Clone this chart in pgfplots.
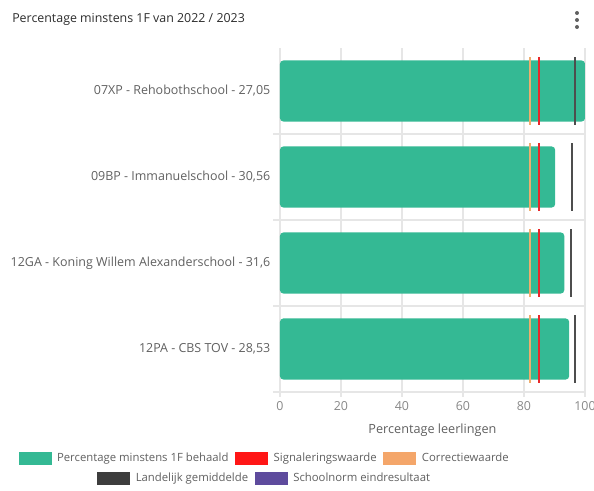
\documentclass[border=0pt]{standalone}
\usepackage{pgfplots}
\pgfplotsset{compat=1.18}
\usepackage{fontspec}
\setmainfont{Open Sans}
\definecolor{greenbar}{RGB}{52,185,148}
\definecolor{redline}{RGB}{232,40,43}
\definecolor{orangeline}{RGB}{239,174,110}
\definecolor{blackline}{RGB}{77,77,77}
\definecolor{legred}{RGB}{255,22,22}
\definecolor{legorange}{RGB}{244,166,106}
\definecolor{legblack}{RGB}{61,61,61}
\definecolor{legpurple}{RGB}{94,75,157}
\definecolor{gridc}{RGB}{230,230,230}
\definecolor{txt}{RGB}{96,96,96}
\definecolor{ticktxt}{RGB}{136,136,136}
\definecolor{titletxt}{RGB}{45,45,45}
\pgfplotsset{
  legbox/.style={legend image code/.code={\fill[#1] (0pt,-4.5pt) rectangle (24pt,4.5pt);}},
  leg/.style={legend style={draw=none, fill=none, font=\fontsize{8.5}{10.5}\selectfont, text=txt,
    /tikz/every odd column/.append style={column sep=2.5pt},
    /tikz/every even column/.append style={column sep=3pt}}, legend columns=-1},
  vline/.style={only marks, mark=*, mark size=0pt, mark options={draw=none, fill=none}, forget plot,
    error bars/.cd, y dir=both, y fixed=0.4, error mark=none,
    error bar style={line width=1.5pt, draw=#1}},
}
\begin{document}
\begin{tikzpicture}
\path[use as bounding box] (-210pt,-74.25pt) rectangle (235.5pt,294pt);
\node[anchor=west, inner sep=0pt, text=titletxt, font=\fontsize{9.3}{11}\selectfont] at (-201pt,279.5pt) {Percentage minstens 1F van 2022 / 2023};
\fill[txt] (222.75pt,284.25pt) circle (1.5pt) (222.75pt,279pt) circle (1.5pt) (222.75pt,273.75pt) circle (1.5pt);
\begin{axis}[
  at={(0,0)}, anchor=south west, scale only axis,
  width=228.75pt, height=258pt,
  xmin=0, xmax=100, ymin=-0.5, ymax=3.5, y dir=reverse,
  axis x line*=bottom, axis y line*=left,
  axis line style={gridc, line width=0.8pt},
  xtick={0,20,40,60,80,100},
  xmajorgrids, grid style={gridc, line width=0.8pt},
  tick align=outside,
  x tick style={gridc, line width=0.8pt}, major tick length=3.75pt,
  ytick={0,1,2,3},
  yticklabels={07XP - Rehobothschool - 27{,}05, 09BP - Immanuelschool - 30{,}56, 12GA - Koning Willem Alexanderschool - 31{,}6, 12PA - CBS TOV - 28{,}53},
  y tick style={draw=none},
  minor ytick={0.5,1.5,2.5,3.5},
  yminorgrids, minor grid style={gridc, line width=0.8pt},
  minor y tick style={gridc, draw=gridc, line width=0.8pt}, minor tick length=5.25pt,
  yticklabel style={font=\fontsize{9.35}{11}\selectfont, text=txt},
  xticklabel style={font=\fontsize{9.3}{11}\selectfont, text=ticktxt},
  /pgf/number format/assume math mode=true,
  xlabel={Percentage leerlingen},
  xlabel style={font=\fontsize{9.5}{11}\selectfont, text=txt, at={(axis description cs:0.5,-0.112)}, anchor=center},
  leg, legend style={at={(-0.0492,-0.1919)}, anchor=center},
  clip=false,
]
\addplot[xbar, bar width=0.71, fill=greenbar, draw=none, rounded corners=2.5pt, forget plot]
  coordinates {(100,0) (90.2,1) (93.2,2) (94.8,3)};
\addplot[vline=orangeline] coordinates {(82,0) (82,1) (82,2) (82,3)};
\addplot[vline=redline] coordinates {(85,0) (85,1) (85,2) (85,3)};
\addplot[vline=blackline] coordinates {(96.6,0) (95.7,1) (95.3,2) (96.6,3)};
\addlegendimage{legbox=greenbar}
\addlegendentry{Percentage minstens 1F behaald}
\addlegendimage{legbox=legred}
\addlegendentry{Signaleringswaarde}
\addlegendimage{legbox=legorange}
\addlegendentry{Correctiewaarde}
\end{axis}
\begin{axis}[
  at={(0,0)}, anchor=south west, scale only axis,
  width=228.75pt, height=258pt, hide axis,
  xmin=0, xmax=1, ymin=0, ymax=1,
  leg, legend style={at={(-0.0492,-0.2495)}, anchor=center},
]
\addplot[draw=none, forget plot] coordinates {(0.5,0.5)};
\addlegendimage{legbox=legblack}
\addlegendentry{Landelijk gemiddelde}
\addlegendimage{legbox=legpurple}
\addlegendentry{Schoolnorm eindresultaat}
\end{axis}
\end{tikzpicture}
\end{document}
